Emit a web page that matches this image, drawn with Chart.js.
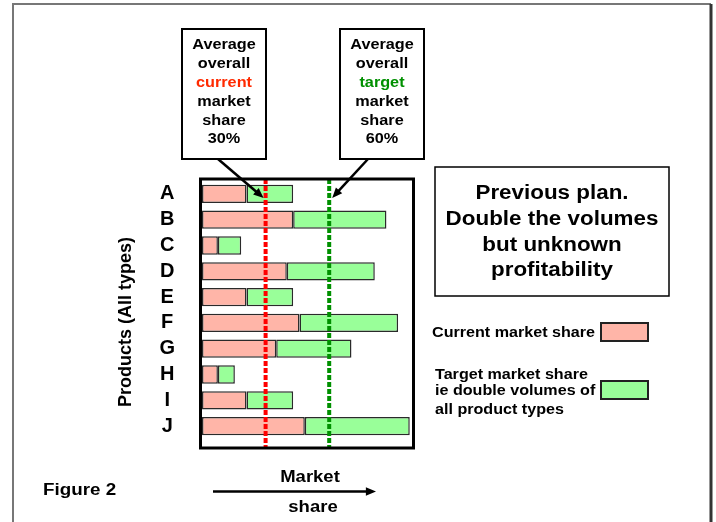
<!DOCTYPE html>
<html>
<head>
<meta charset="utf-8">
<script src="https://cdn.jsdelivr.net/npm/chart.js@4"></script>
<style>
  html, body { margin: 0; padding: 0; background: #fff; }
  #wrap { width: 716px; height: 522px; }
</style>
</head>
<body>
<div id="wrap"><canvas id="chart" width="716" height="522"></canvas></div>
<script>
const products = ['A', 'B', 'C', 'D', 'E', 'F', 'G', 'H', 'I', 'J'];
const currentShare = [21, 43, 7.5, 40, 21, 46, 35, 7.5, 21, 48.5];
const targetExtra = [22, 44, 11, 41.5, 22, 46.5, 35.5, 8, 22, 49.5];
const averageShare = [30, 60]; // current, target

const FONT = '"Liberation Sans", Arial, sans-serif';
const PINK = '#ffb5a8';
const GREEN = '#99ff99';

// text a bit wider than Arial, like the original
function txt(ctx, s, x, y, size, color, align) {
  ctx.save();
  ctx.translate(x, y);
  ctx.scale(1.12, 1);
  ctx.font = 'bold ' + size + 'px ' + FONT;
  ctx.fillStyle = color || '#000';
  ctx.textAlign = align || 'center';
  ctx.textBaseline = 'middle';
  ctx.fillText(s, 0, 0);
  ctx.restore();
}

function arrow(ctx, x1, y1, x2, y2, w, head) {
  const a = Math.atan2(y2 - y1, x2 - x1);
  ctx.save();
  ctx.strokeStyle = '#000';
  ctx.fillStyle = '#000';
  ctx.lineWidth = w;
  ctx.beginPath();
  ctx.moveTo(x1, y1);
  ctx.lineTo(x2 - Math.cos(a) * head * 0.8, y2 - Math.sin(a) * head * 0.8);
  ctx.stroke();
  ctx.beginPath();
  ctx.moveTo(x2, y2);
  ctx.lineTo(x2 - head * Math.cos(a - 0.4), y2 - head * Math.sin(a - 0.4));
  ctx.lineTo(x2 - head * Math.cos(a + 0.4), y2 - head * Math.sin(a + 0.4));
  ctx.closePath();
  ctx.fill();
  ctx.restore();
}

const decor = {
  id: 'decor',
  beforeDraw(chart) {
    const ctx = chart.ctx;
    ctx.save();
    ctx.fillStyle = '#fff';
    ctx.fillRect(0, 0, chart.width, chart.height);
    // outer figure frame
    ctx.strokeStyle = '#777';
    ctx.lineWidth = 2;
    ctx.beginPath();
    ctx.moveTo(13, 522); ctx.lineTo(13, 4); ctx.lineTo(711, 4);
    ctx.stroke();
    ctx.strokeStyle = '#333';
    ctx.lineWidth = 3;
    ctx.beginPath();
    ctx.moveTo(711, 4); ctx.lineTo(711, 522);
    ctx.stroke();
    ctx.restore();
  },
  afterDatasetsDraw(chart) {
    const ctx = chart.ctx;
    const ca = chart.chartArea;
    const xs = chart.scales.x;
    const top = ca.top - 2, bottom = ca.bottom + 9;
    ctx.save();
    // average lines
    ctx.lineWidth = 4;
    ctx.setLineDash([5, 2]);
    [['#ff0000', averageShare[0]], ['#009000', averageShare[1]]].forEach(([c, v]) => {
      const x = xs.getPixelForValue(v);
      ctx.strokeStyle = c;
      ctx.beginPath();
      ctx.moveTo(x, top);
      ctx.lineTo(x, bottom);
      ctx.stroke();
    });
    ctx.setLineDash([]);
    // plot frame
    ctx.strokeStyle = '#000';
    ctx.lineWidth = 3;
    ctx.strokeRect(ca.left - 1.5, top, ca.right - ca.left - 0.5 + 1.5, bottom - top);
    ctx.restore();
  },
  afterDraw(chart) {
    const ctx = chart.ctx;
    const xs = chart.scales.x;
    const ys = chart.scales.y;
    const yA = ys.getPixelForValue(0);

    // call-out boxes
    const boxes = [
      { cx: 224, word: 'current', color: '#ff2a00', v: averageShare[0], from: [218, 159] },
      { cx: 382, word: 'target', color: '#009000', v: averageShare[1], from: [368, 159] }
    ];
    boxes.forEach(b => {
      ctx.save();
      ctx.strokeStyle = '#000';
      ctx.lineWidth = 2;
      ctx.strokeRect(b.cx - 42, 29, 84, 130);
      ctx.restore();
      const lines = ['Average', 'overall', b.word, 'market', 'share', b.v + '%'];
      const ly = [45, 63.5, 82.5, 101.5, 120.5, 139];
      lines.forEach((s, i) => txt(ctx, s, b.cx, ly[i], 14.5, i === 2 ? b.color : '#000'));
      const tx = xs.getPixelForValue(b.v);
      arrow(ctx, b.from[0], b.from[1], tx + (b.from[0] < tx ? -2 : 3), yA + 4, 2.5, 11);
    });

    // plan box
    ctx.save();
    ctx.strokeStyle = '#000';
    ctx.lineWidth = 1.5;
    ctx.strokeRect(435, 167, 234, 129);
    ctx.restore();
    ['Previous plan.', 'Double the volumes', 'but unknown', 'profitability']
      .forEach((s, i) => txt(ctx, s, 552, [193, 219, 245, 270][i], 20, '#000'));

    // legend
    const ds = chart.data.datasets;
    txt(ctx, ds[0].label, 432, 333.5, 14.4, '#000', 'left');
    ['Target market share', 'ie double volumes of', 'all product types']
      .forEach((s, i) => txt(ctx, s, 435, [375, 391, 410][i], 14.4, '#000', 'left'));
    ctx.save();
    ctx.lineWidth = 2;
    ctx.strokeStyle = '#222';
    ctx.fillStyle = ds[0].backgroundColor;
    ctx.fillRect(601, 323, 47, 18); ctx.strokeRect(601, 323, 47, 18);
    ctx.fillStyle = ds[1].backgroundColor;
    ctx.fillRect(601, 381, 47, 18); ctx.strokeRect(601, 381, 47, 18);
    ctx.restore();

    // y title
    ctx.save();
    ctx.translate(126, 322);
    ctx.rotate(-Math.PI / 2);
    ctx.font = 'bold 18px ' + FONT;
    ctx.fillStyle = '#000';
    ctx.textAlign = 'center';
    ctx.textBaseline = 'middle';
    ctx.fillText('Products (All types)', 0, 0);
    ctx.restore();

    // bottom
    txt(ctx, 'Figure 2', 43, 490, 16.8, '#000', 'left');
    arrow(ctx, 213, 491.5, 376, 491.5, 2.5, 11);
    txt(ctx, 'Market', 310, 477, 16.5);
    txt(ctx, 'share', 313, 507, 16.5);
  }
};

new Chart(document.getElementById('chart').getContext('2d'), {
  type: 'bar',
  data: {
    labels: products,
    datasets: [
      {
        label: 'Current market share',
        data: currentShare,
        backgroundColor: PINK,
        borderColor: '#2a2a2a',
        borderWidth: 1.5,
        borderSkipped: false
      },
      {
        label: 'Target market share ie double volumes of all product types',
        data: targetExtra,
        backgroundColor: GREEN,
        borderColor: '#2a2a2a',
        borderWidth: 1.5,
        borderSkipped: false
      }
    ]
  },
  options: {
    indexAxis: 'y',
    responsive: false,
    animation: false,
    devicePixelRatio: 1,
    layout: { padding: { left: 112, right: 302, top: 181, bottom: 83 } },
    datasets: { bar: { categoryPercentage: 1, barPercentage: 0.71 } },
    scales: {
      x: { stacked: true, min: 0, max: 100, display: false },
      y: {
        stacked: true,
        grid: { display: false, drawTicks: false },
        border: { display: false },
        ticks: {
          autoSkip: false,
          crossAlign: 'center',
          padding: 27,
          color: '#000',
          font: { family: FONT, size: 20, weight: 'bold' }
        },
        afterFit(scale) { scale.width = 90; }
      }
    },
    plugins: {
      legend: { display: false },
      tooltip: { enabled: false }
    }
  },
  plugins: [decor]
});
</script>
</body>
</html>
